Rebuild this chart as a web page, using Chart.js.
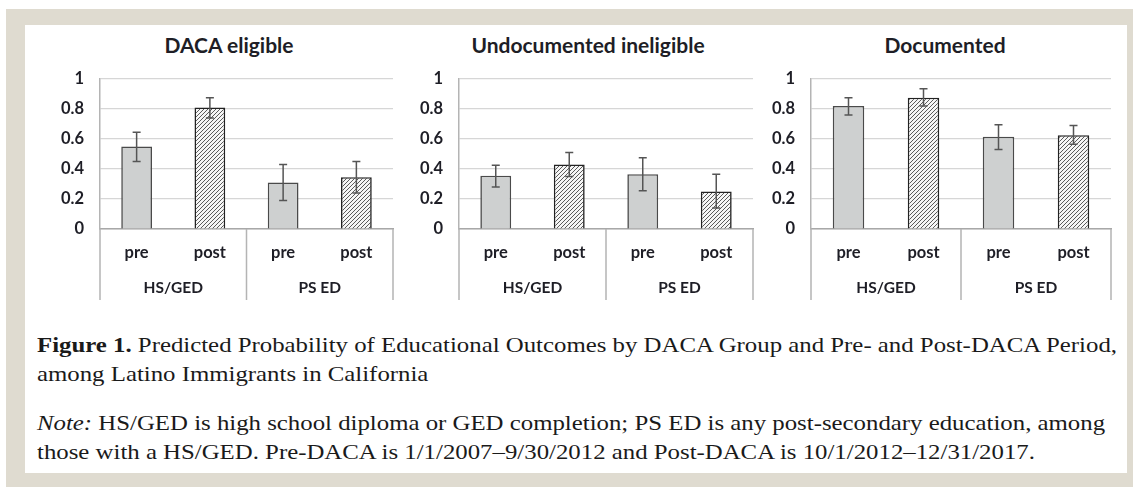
<!DOCTYPE html>
<html>
<head>
<meta charset="utf-8">
<script src="https://cdn.jsdelivr.net/npm/chart.js@4"></script>
<style>
  body { margin: 0; background: #fff; width: 1133px; height: 487px; overflow: hidden; position: relative; }
  #frame { position: absolute; left: 6px; top: 9px; width: 1127px; height: 478px; background: #dfdbd0; }
  #inner { position: absolute; left: 25px; top: 25px; width: 1102px; height: 448px; background: #fff; }
  .panel { position: absolute; top: 53px; height: 257px; }
  .ttl { position: absolute; top: 32px; width: 300px; text-align: center; font: bold 21px Lato, sans-serif; color: #1e1e26; }
  .cap { position: absolute; left: 37px; white-space: nowrap; font: 22px "Liberation Serif", serif; line-height: 22px; color: #1a1a1a; transform-origin: 0 0; }
</style>
</head>
<body>
<div id="frame"></div>
<div id="inner"></div>

<div class="ttl" id="t0" style="left:79px"></div>
<div class="ttl" id="t1" style="left:438px"></div>
<div class="ttl" id="t2" style="left:795px"></div>

<div class="panel" style="left:40px;width:360px"><canvas id="c0"></canvas></div>
<div class="panel" style="left:400px;width:360px"><canvas id="c1"></canvas></div>
<div class="panel" style="left:760px;width:358px"><canvas id="c2"></canvas></div>

<div class="cap" style="top:334px"><b>Figure 1.</b> Predicted Probability of Educational Outcomes by DACA Group and Pre- and Post-DACA Period,</div>
<div class="cap" style="top:363px">among Latino Immigrants in California</div>
<div class="cap" style="top:412px"><i>Note:</i> HS/GED is high school diploma or GED completion; PS ED is any post-secondary education, among</div>
<div class="cap" style="top:441px">those with a HS/GED. Pre-DACA is 1/1/2007–9/30/2012 and Post-DACA is 10/1/2012–12/31/2017.</div>

<script>
// ---------- data

const periods = ['pre', 'post', 'pre', 'post'];
const outcomes = ['HS/GED', 'PS ED'];
const panelTitles = ['DACA eligible', 'Undocumented ineligible', 'Documented'];
const yTicks = [0, 0.2, 0.4, 0.6, 0.8, 1];

const dacaEligible     = [0.55, 0.81, 0.31, 0.345];
const dacaEligibleLow  = [0.45, 0.74, 0.19, 0.24];
const dacaEligibleHigh = [0.645, 0.875, 0.43, 0.45];

const undocIneligible     = [0.355, 0.43, 0.365, 0.25];
const undocIneligibleLow  = [0.28, 0.35, 0.255, 0.14];
const undocIneligibleHigh = [0.425, 0.51, 0.475, 0.365];

const documented     = [0.82, 0.875, 0.615, 0.625];
const documentedLow  = [0.76, 0.82, 0.53, 0.565];
const documentedHigh = [0.875, 0.935, 0.695, 0.69];

// ---------- helpers

function makeHatch() {
  var c = document.createElement('canvas');
  c.width = 4; c.height = 4;
  var g = c.getContext('2d');
  g.fillStyle = '#f6f6f6';
  g.fillRect(0, 0, 4, 4);
  g.strokeStyle = '#4a4a4a';
  g.lineWidth = 0.9;
  g.beginPath();
  g.moveTo(0, 4); g.lineTo(4, 0);
  g.moveTo(-1, 1); g.lineTo(1, -1);
  g.moveTo(3, 5); g.lineTo(5, 3);
  g.stroke();
  return g.createPattern(c, 'repeat');
}
const hatch = makeHatch();
const grayFill = '#ced0d0';
const labelFont = { family: 'Lato', size: 16.5, weight: 'bold' };

// error bars, drawn from the y scale
const errorBars = {
  id: 'errorBars',
  afterDatasetsDraw(chart) {
    var ctx = chart.ctx, y = chart.scales.y;
    var ds = chart.data.datasets[0];
    var meta = chart.getDatasetMeta(0);
    ctx.save();
    ctx.strokeStyle = '#555';
    ctx.lineWidth = 1.5;
    meta.data.forEach(function (bar, i) {
      var lo = y.getPixelForValue(ds.errLow[i]);
      var hi = y.getPixelForValue(ds.errHigh[i]);
      ctx.beginPath();
      ctx.moveTo(bar.x, lo); ctx.lineTo(bar.x, hi);
      ctx.moveTo(bar.x - 4, lo); ctx.lineTo(bar.x + 4, lo);
      ctx.moveTo(bar.x - 4, hi); ctx.lineTo(bar.x + 4, hi);
      ctx.stroke();
    });
    ctx.restore();
  }
};

// two-level category axis lines
const groupLines = {
  id: 'groupLines',
  afterDraw(chart) {
    var ctx = chart.ctx, x = chart.scales.x, x2 = chart.scales.x2;
    var top = chart.chartArea.bottom, bottom = x2.bottom;
    var mid = (x.getPixelForValue(1) + x.getPixelForValue(2)) / 2;
    ctx.save();
    ctx.strokeStyle = '#b4b4b4';
    ctx.lineWidth = 1.5;
    ctx.beginPath();
    [chart.chartArea.left, mid, chart.chartArea.right].forEach(function (px) {
      ctx.moveTo(px, top); ctx.lineTo(px, bottom);
    });
    ctx.stroke();
    ctx.restore();
  }
};

function makePanel(id, title, values, low, high, yWidth) {
  document.getElementById('t' + id).textContent = title;
  return new Chart(document.getElementById('c' + id), {
    type: 'bar',
    data: {
      labels: periods,
      datasets: [{
        data: values,
        errLow: low,
        errHigh: high,
        backgroundColor: [grayFill, hatch, grayFill, hatch],
        borderColor: ['#4a4a4a', '#222', '#4a4a4a', '#222'],
        borderWidth: 1.6,
        barPercentage: 0.42,
        categoryPercentage: 1
      }]
    },
    options: {
      responsive: true,
      maintainAspectRatio: false,
      animation: false,
      layout: { padding: { left: 0, right: 7, top: 0, bottom: 10 } },
      plugins: { legend: { display: false }, tooltip: { enabled: false } },
      scales: {
        x: {
          weight: 0,
          grid: { display: false, drawTicks: false },
          border: { display: true, color: '#a8a8a8', width: 1.5 },
          ticks: { color: '#1e1e26', font: labelFont, padding: 14, maxRotation: 0 },
          afterFit: function (s) { s.height = 41; }
        },
        x2: {
          type: 'category',
          labels: outcomes,
          position: 'bottom',
          offset: true,
          weight: 1,
          grid: { display: false, drawTicks: false },
          border: { display: false },
          ticks: { color: '#1e1e26', font: { family: 'Lato', size: 15.5, weight: 'bold' }, padding: 9, maxRotation: 0 },
          afterFit: function (s) { s.height = 30; }
        },
        y: {
          min: 0,
          max: 1,
          afterBuildTicks: function (s) { s.ticks = yTicks.map(function (v) { return { value: v }; }); },
          grid: { color: '#d6d6d6', lineWidth: 1.2, drawTicks: false },
          border: { display: true, color: '#b4b4b4', width: 1.5 },
          ticks: {
            color: '#1e1e26', font: labelFont, padding: 16,
            callback: function (v) { return String(Math.round(v * 10) / 10); }
          },
          afterFit: function (s) { s.width = yWidth; }
        }
      }
    },
    plugins: [errorBars, groupLines]
  });
}

makePanel(0, panelTitles[0], dacaEligible, dacaEligibleLow, dacaEligibleHigh, 60);
makePanel(1, panelTitles[1], undocIneligible, undocIneligibleLow, undocIneligibleHigh, 59);
makePanel(2, panelTitles[2], documented, documentedLow, documentedHigh, 51);

// squeeze caption lines to the condensed width of the original
var caps = document.querySelectorAll('.cap');
var k = 1080 / caps[0].getBoundingClientRect().width;
caps.forEach(function (el) { el.style.transform = 'scaleX(' + k + ')'; });
</script>
</body>
</html>
